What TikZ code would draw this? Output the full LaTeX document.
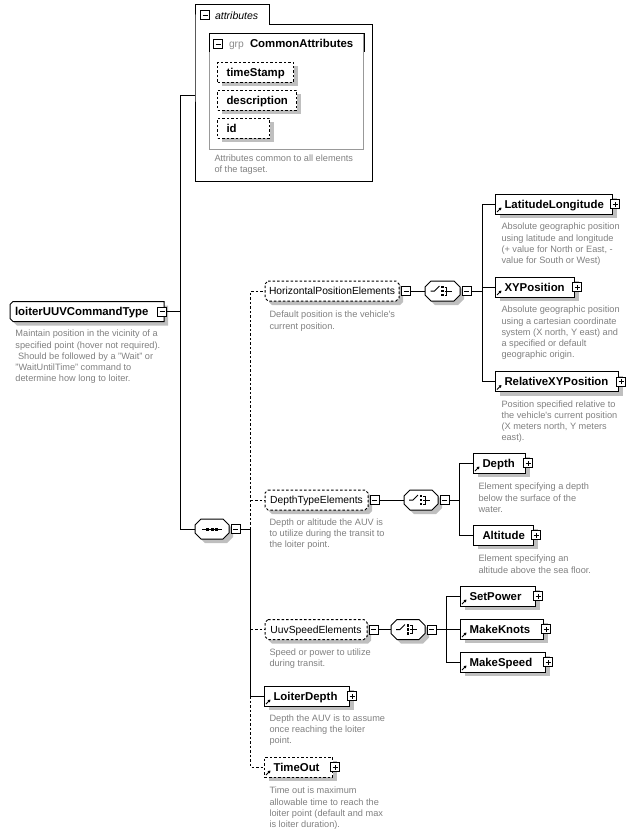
\documentclass[tikz,border=0pt]{standalone}
\usepackage{fontspec}
\setmainfont{Liberation Sans}
\usetikzlibrary{shadows,arrows.meta}
\hyphenpenalty=10000
\exhyphenpenalty=10000
\newlength{\pmsize}
\setlength{\pmsize}{9pt}
\newcommand{\elfont}{\fontsize{11.4}{13}\bfseries\selectfont}
\newcommand{\grpfont}{\fontsize{10.3}{12}\selectfont}
\newcommand{\docfont}{\fontsize{9.2}{11.2}\selectfont}
\newcommand{\octpath}[5]{({#1+#5},#2) -- ({#3-#5},#2) -- (#3,{#2+#5}) -- (#3,{#4-#5}) -- ({#3-#5},#4) -- ({#1+#5},#4) -- (#1,{#4-#5}) -- (#1,{#2+#5}) -- cycle}

\begin{document}
\begin{tikzpicture}[x=1pt,y=-1pt,line width=1pt,
  boxshadow/.style={drop shadow={shadow xshift=4pt,shadow yshift=-4pt,fill=black!25,opacity=1}},
  elem/.style={draw,fill=white,rectangle,anchor=west,minimum height=20pt,inner xsep=9pt,inner ysep=0pt,align=left,text height=10.5pt,text depth=2.3pt,font=\elfont,boxshadow},
  optional/.style={dash pattern=on 2.5pt off 2pt},
  chamfer/.style={draw,fill=white},
  chamfershadow/.style={fill=black!25,shift={(4,4)}},
  grplabel/.style={inner sep=0pt,minimum height=20pt,text height=9.7pt,text depth=2.3pt,font=\grpfont},
  compnode/.style={inner sep=0pt,minimum width=34pt,minimum height=20pt},
  pmbox/.style={draw,fill=white,rectangle,minimum size=\pmsize,inner sep=0pt},
  minusbox/.style={pmbox,path picture={\draw[line width=0.9pt] ([xshift=2pt]path picture bounding box.west) -- ([xshift=-2pt]path picture bounding box.east);}},
  plusbox/.style={pmbox,path picture={\draw[line width=0.9pt] ([xshift=2pt]path picture bounding box.west) -- ([xshift=-2pt]path picture bounding box.east) ([yshift=2pt]path picture bounding box.south) -- ([yshift=-2pt]path picture bounding box.north);}},
  docnote/.style={anchor=north west,align=left,inner sep=0pt,font=\docfont,text=black!50},
  refarrow/.style={-{Triangle[length=2.6pt,width=3pt]},line width=0.9pt}]
  \useasboundingbox (0,0) rectangle (632,833);

  \node[minimum width=176pt,minimum height=156pt,inner sep=0pt,anchor=north west] (attrs) at (195,24) {};
  \node[minimum width=73pt,minimum height=19pt,inner sep=0pt,anchor=south west] (attrs-tab) at (attrs.north west) {};
  \draw (attrs-tab.south west) |- (attrs-tab.north east) |- (attrs.north east) |- (attrs.south west) -- cycle;
  \node[minusbox] (attrs-m) at (205,15) {};
  \node[anchor=base west,inner sep=0pt,font=\itshape\fontsize{10.5}{12}\selectfont] (attrs-t) at (214.5,19) {attributes};
  \node[draw=black!40,minimum width=154pt,minimum height=116pt,inner sep=0pt,anchor=north west] (cagrp) at (209,33) {};
  \draw ([yshift=-19pt]cagrp.north west) -- (cagrp.north west) -- (cagrp.north east) -- ([yshift=-19pt]cagrp.north east);
  \node[minusbox] (cagrp-m) at (218,44) {};
  \node[anchor=base west,inner sep=0pt,font=\grpfont,text=black!45] (cagrp-k) at (228.5,47.5) {grp};
  \node[anchor=base west,inner sep=0pt,font=\elfont] (cagrp-t) at (249.5,47.5) {CommonAttributes};
  \node[elem,optional,text width=58pt] (ts) at (217,72) {timeStamp};
  \node[elem,optional,text width=61pt] (descr) at (217,100) {description};
  \node[elem,optional,text width=34pt] (id) at (217,128) {id};
  \node[docnote] (attrs-doc) at (214,154) {Attributes common to all elements\\of the tagset.};

  \fill[chamfershadow] (13,301.5) -- (164,301.5) -- (164,321.5) -- (13,321.5) -- (10,318.5) -- (10,304.5) -- cycle;
  \draw[chamfer] (13,301.5) -- (164,301.5) -- (164,321.5) -- (13,321.5) -- (10,318.5) -- (10,304.5) -- cycle;
  \node[grplabel,font=\elfont,text height=10.5pt,minimum width=154pt] (root) at (87,311.5) {\makebox[144pt][l]{loiterUUVCommandType}};
  \node[minusbox] (root-m) at ([xshift=-2.5pt]root.east) {};
  \node[docnote] (root-doc) at (15,329.7) {Maintain position in the vicinity of a\\specified point (hover not required).\\\hspace*{2.5pt}Should be followed by a "Wait" or\\"WaitUntilTime" command to\\determine how long to loiter.};

  \fill[chamfershadow] \octpath{195}{519}{229}{539}{6};
  \draw[chamfer] \octpath{195}{519}{229}{539}{6};
  \node[compnode] (seq) at (212,529) {};
  \node[minusbox,anchor=west] (seq-m) at ([xshift=1pt]seq.east) {};
  \draw ([xshift=-10pt]seq.center) -- ([xshift=10pt]seq.center);
  \foreach \d in {-4.5pt,0pt,4.5pt}
    \fill ([xshift=\d]seq.center) ++(-1.5pt,-1.5pt) rectangle ++(3pt,3pt);

  \fill[chamfershadow] \octpath{265}{281}{399}{301}{3};
  \draw[chamfer,optional] \octpath{265}{281}{399}{301}{3};
  \node[grplabel,minimum width=134pt] (hpe) at (332,291) {HorizontalPositionElements};
  \node[minusbox,anchor=west] (hpe-m) at ([xshift=1.5pt]hpe.east) {};
  \node[docnote] (hpe-doc) at (269,310.7) {Default position is the vehicle\textquotesingle s\\current position.};
  \fill[chamfershadow] \octpath{425}{281}{460}{301}{6};
  \draw[chamfer] \octpath{425}{281}{460}{301}{6};
  \node[compnode,minimum width=35pt] (ch1) at (442.5,291) {};
  \node[minusbox,anchor=west] (ch1-m) at ([xshift=1pt]ch1.east) {};

  \fill[chamfershadow] \octpath{265}{490}{368}{510}{3};
  \draw[chamfer,optional] \octpath{265}{490}{368}{510}{3};
  \node[grplabel,minimum width=103pt] (dte) at (316.5,500) {DepthTypeElements};
  \node[minusbox,anchor=west] (dte-m) at ([xshift=1pt]dte.east) {};
  \node[docnote] (dte-doc) at (269,518.2) {Depth or altitude the AUV is\\to utilize during the transit to\\the loiter point.};
  \fill[chamfershadow] \octpath{404}{490}{438}{510}{6};
  \draw[chamfer] \octpath{404}{490}{438}{510}{6};
  \node[compnode] (ch2) at (421,500) {};
  \node[minusbox,anchor=west] (ch2-m) at ([xshift=1pt]ch2.east) {};

  \fill[chamfershadow] \octpath{265}{619.5}{367}{639.5}{3};
  \draw[chamfer,optional] \octpath{265}{619.5}{367}{639.5}{3};
  \node[grplabel,minimum width=102pt] (use) at (316,629.5) {UuvSpeedElements};
  \node[minusbox,anchor=west] (use-m) at ([xshift=1pt]use.east) {};
  \node[docnote] (use-doc) at (269,648.2) {Speed or power to utilize\\during transit.};
  \fill[chamfershadow] \octpath{391}{619.5}{425}{639.5}{6};
  \draw[chamfer] \octpath{391}{619.5}{425}{639.5}{6};
  \node[compnode] (ch3) at (408,629.5) {};
  \node[minusbox,anchor=west] (ch3-m) at ([xshift=1pt]ch3.east) {};

  \foreach \c in {ch1,ch2,ch3} {
    \draw ([xshift=-12pt]\c.center) -- ([xshift=-8pt]\c.center) -- ([shift={(-3pt,5pt)}]\c.center);
    \foreach \d in {-4pt,0pt,4pt}
      \fill ([yshift=\d]\c.center) ++(-1.2pt,-1.2pt) rectangle ++(2.4pt,2.4pt);
    \draw ([shift={(2pt,4pt)}]\c.center) -| ([shift={(4pt,-4pt)}]\c.center) -- ([shift={(2pt,-4pt)}]\c.center);
    \draw ([xshift=2pt]\c.center) -- ([xshift=9pt]\c.center);
  }

  \node[elem,text width=99pt] (latlon) at (495,204) {LatitudeLongitude};
  \node[docnote] (latlon-doc) at (501,222.7) {Absolute geographic position\\using latitude and longitude\\(+ value for North or East, -\\value for South or West)};
  \node[elem,text width=61pt] (xypos) at (495,287) {XYPosition};
  \node[docnote] (xypos-doc) at (501,305.7) {Absolute geographic position\\using a cartesian coordinate\\system (X north, Y east) and\\a specified or default\\geographic origin.};
  \node[elem,text width=105pt] (relxy) at (495,381.5) {RelativeXYPosition};
  \node[docnote] (relxy-doc) at (501,400.2) {Position specified relative to\\the vehicle\textquotesingle s current position\\(X meters north, Y meters\\east).};
  \node[elem,text width=34pt] (depth) at (473,463) {Depth};
  \node[docnote] (depth-doc) at (478,482.7) {Element specifying a depth\\below the surface of the\\water.};
  \node[elem,text width=42pt] (altitude) at (473,535) {Altitude};
  \node[docnote] (altitude-doc) at (478,554.7) {Element specifying an\\altitude above the sea floor.};
  \node[elem,text width=57pt] (setpower) at (460,596) {SetPower};
  \node[elem,text width=65pt] (makeknots) at (460,629) {MakeKnots};
  \node[elem,text width=67pt] (makespeed) at (460,662) {MakeSpeed};
  \node[elem,text width=67pt] (loiter) at (264,696) {LoiterDepth};
  \node[docnote] (loiter-doc) at (269,714.2) {Depth the AUV is to assume\\once reaching the loiter\\point.};
  \node[elem,optional,text width=50pt] (timeout) at (264,767) {TimeOut};
  \node[docnote] (timeout-doc) at (269,786.7) {Time out is maximum\\allowable time to reach the\\loiter point (default and max\\is loiter duration).};

  \foreach \n in {latlon,xypos,relxy,depth,altitude,setpower,makeknots,makespeed,loiter,timeout}
    \node[plusbox] (\n-p) at ([xshift=2pt]\n.east) {};
  \foreach \n in {latlon,xypos,relxy,depth,setpower,makeknots,makespeed,loiter,timeout}
    \draw[refarrow] ([shift={(2pt,2.5pt)}]\n.south west) -- ++(4.5pt,4.5pt);

  \coordinate (trunk) at (180,95);
  \draw (root-m.east) -- (root-m.east -| trunk);
  \draw (attrs.west |- trunk) -- (trunk) |- (seq.west);
  \coordinate (seqbus) at ([xshift=10pt]seq-m.east);
  \draw (seq-m.east) -- (seqbus);
  \draw[optional] (seqbus) |- (hpe.west);
  \draw[optional] (dte.west -| seqbus) -- (dte.west);
  \draw[optional] (use.west -| seqbus) -- (use.west);
  \draw (seqbus) |- (loiter.west);
  \draw[optional] (loiter.west -| seqbus) |- (timeout.west);

  \draw (hpe-m.east) -- (ch1.west);
  \coordinate (ch1bus) at ([xshift=11pt]ch1-m.east);
  \draw (ch1-m.east) -- (ch1bus);
  \draw (latlon.west) -| (ch1bus) |- (relxy.west);
  \draw (xypos.west -| ch1bus) -- (xypos.west);

  \draw (dte-m.east) -- (ch2.west);
  \coordinate (ch2bus) at ([xshift=10pt]ch2-m.east);
  \draw (ch2-m.east) -- (ch2bus);
  \draw (depth.west) -| (ch2bus) |- (altitude.west);

  \draw (use-m.east) -- (ch3.west);
  \coordinate (ch3bus) at ([xshift=10pt]ch3-m.east);
  \draw (ch3-m.east) -- (ch3bus);
  \draw (setpower.west) -| (ch3bus) |- (makespeed.west);
  \draw (makeknots.west -| ch3bus) -- (makeknots.west);
\end{tikzpicture}
\end{document}
